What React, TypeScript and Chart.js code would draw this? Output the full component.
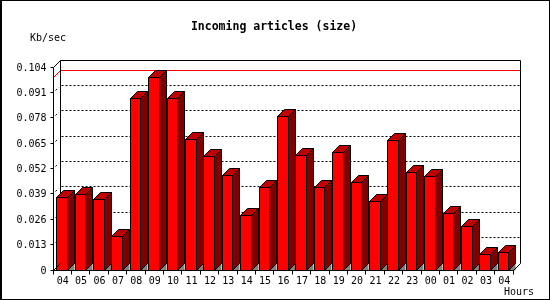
import React, { useEffect, useRef } from "react";
import { Chart, registerables } from "chart.js";

Chart.register(...registerables);

const hours = ["04","05","06","07","08","09","10","11","12","13","14","15","16","17","18","19","20","21","22","23","00","01","02","03","04"];
const sizeKbps = [0.0372,0.0389,0.0362,0.0174,0.0880,0.0987,0.0880,0.0670,0.0584,0.0487,0.0280,0.0424,0.0791,0.0589,0.0424,0.0603,0.0449,0.0352,0.0664,0.0500,0.0480,0.0290,0.0224,0.0080,0.0091];
const yTicks = [0,0.013,0.026,0.039,0.052,0.065,0.078,0.091,0.104];
const yTickLabels = ["0","0.013","0.026","0.039","0.052","0.065","0.078","0.091","0.104"];
const titleText = "Incoming articles (size)";
const yUnit = "Kb/sec";
const xUnit = "Hours";

const DEPTH = 7;
const FONT = '"DejaVu Sans Mono", "Liberation Mono", monospace';

const threeD = {
  id: "threeD",
  beforeDraw(chart: any) {
    const ctx = chart.ctx;
    ctx.save();
    ctx.fillStyle = "#ffffff";
    ctx.fillRect(0, 0, 550, 300);
    ctx.fillStyle = "#000000";
    ctx.fillRect(0, 0, 2, 300);
    ctx.fillRect(0, 0, 550, 1);
    ctx.fillRect(549, 0, 1, 300);
    ctx.fillRect(0, 299, 550, 1);
    ctx.restore();
  },
  beforeDatasetsDraw(chart: any) {
    const ctx = chart.ctx;
    const xs = chart.scales.x;
    const ys = chart.scales.y;
    const L = Math.floor(xs.left) + 0.5;
    const R = Math.floor(xs.right) + 0.5;
    const top = Math.floor(ys.getPixelForValue(yTicks[yTicks.length - 1])) + 0.5;
    const base = Math.floor(ys.getPixelForValue(0)) + 0.5;
    ctx.save();
    ctx.lineWidth = 1;
    ctx.strokeStyle = "#000";
    ctx.setLineDash([2, 2]);
    for (let i = 1; i < yTicks.length - 1; i++) {
      const y = Math.floor(ys.getPixelForValue(yTicks[i])) + 0.5;
      ctx.beginPath();
      ctx.moveTo(L + DEPTH + 1, y - DEPTH);
      ctx.lineTo(R + DEPTH, y - DEPTH);
      ctx.stroke();
      ctx.beginPath();
      ctx.moveTo(L + 2, y - 2);
      ctx.lineTo(L + 5, y - 5);
      ctx.stroke();
    }
    ctx.setLineDash([]);
    const maxV = Math.max(...sizeKbps);
    const my = Math.floor(ys.getPixelForValue(maxV)) + 0.5;
    ctx.strokeStyle = "#ff0000";
    ctx.beginPath();
    ctx.moveTo(L, my);
    ctx.lineTo(L + DEPTH, my - DEPTH);
    ctx.lineTo(R + DEPTH, my - DEPTH);
    ctx.stroke();
    ctx.strokeStyle = "#000";
    ctx.beginPath();
    ctx.moveTo(L + DEPTH, base - DEPTH);
    ctx.lineTo(L + DEPTH, top - DEPTH);
    ctx.lineTo(R + DEPTH, top - DEPTH);
    ctx.lineTo(R + DEPTH, base - DEPTH);
    ctx.stroke();
    ctx.restore();
  },
  afterDatasetsDraw(chart: any) {
    const ctx = chart.ctx;
    const xs = chart.scales.x;
    const ys = chart.scales.y;
    const L = Math.floor(xs.left) + 0.5;
    const R = Math.floor(xs.right) + 0.5;
    const top = Math.floor(ys.getPixelForValue(yTicks[yTicks.length - 1])) + 0.5;
    const base = Math.floor(ys.getPixelForValue(0)) + 0.5;
    const meta = chart.getDatasetMeta(0);
    ctx.save();
    ctx.lineWidth = 1;
    ctx.strokeStyle = "#000";
    meta.data.forEach((bar: any) => {
      const w = bar.width;
      const l = Math.floor(bar.x - w / 2) + 0.5;
      const r = Math.round(bar.x + w / 2) - 0.5;
      const t = Math.round(bar.y) + 0.5;
      const b = base;
      // front face
      ctx.fillStyle = "#ff0000";
      ctx.fillRect(l, t, r - l, b - t);
      ctx.strokeRect(l, t, r - l, b - t);
      // side face
      ctx.fillStyle = "#800000";
      ctx.beginPath();
      ctx.moveTo(r, t);
      ctx.lineTo(r + DEPTH, t - DEPTH);
      ctx.lineTo(r + DEPTH, b - DEPTH);
      ctx.lineTo(r, b);
      ctx.closePath();
      ctx.fill();
      ctx.stroke();
      // floor triangle
      ctx.fillStyle = "#808080";
      ctx.beginPath();
      ctx.moveTo(r, b);
      ctx.lineTo(r + DEPTH, b - DEPTH);
      ctx.lineTo(r + DEPTH, b);
      ctx.closePath();
      ctx.fill();
      ctx.beginPath();
      ctx.moveTo(r, b);
      ctx.lineTo(r + DEPTH, b - DEPTH);
      ctx.stroke();
      // top face
      ctx.fillStyle = "#c00000";
      ctx.beginPath();
      ctx.moveTo(l, t);
      ctx.lineTo(l + DEPTH, t - DEPTH);
      ctx.lineTo(r + DEPTH, t - DEPTH);
      ctx.lineTo(r, t);
      ctx.closePath();
      ctx.fill();
      ctx.stroke();
    });
    // front axes
    ctx.beginPath();
    ctx.moveTo(L + DEPTH, top - DEPTH);
    ctx.lineTo(L, top);
    ctx.lineTo(L, base);
    ctx.lineTo(R, base);
    ctx.lineTo(R + DEPTH, base - DEPTH);
    ctx.moveTo(L, base);
    ctx.lineTo(L + DEPTH, base - DEPTH);
    ctx.stroke();
    ctx.fillStyle = "#000";
    ctx.font = "10px " + FONT;
    ctx.textAlign = "right";
    ctx.textBaseline = "middle";
    yTicks.forEach((v, i) => {
      const y = Math.floor(ys.getPixelForValue(v)) + 0.5;
      ctx.beginPath();
      ctx.moveTo(L - 3, y);
      ctx.lineTo(L, y);
      ctx.stroke();
      ctx.fillText(yTickLabels[i], L - 7, y + 1);
    });
    ctx.textAlign = "center";
    const n = hours.length;
    for (let i = 0; i <= n; i++) {
      const x = Math.floor(xs.left + (xs.right - xs.left) * i / n) + 0.5;
      ctx.beginPath();
      ctx.moveTo(x, base);
      ctx.lineTo(x, base + 4);
      ctx.stroke();
    }
    hours.forEach((h, i) => {
      const x = xs.getPixelForValue(i);
      ctx.fillText(h, x + 0.5, base + 11);
    });
    ctx.font = "bold 11.5px " + FONT;
    ctx.textAlign = "center";
    ctx.fillText(titleText, 274, 27);
    ctx.font = "10px " + FONT;
    ctx.textAlign = "left";
    ctx.fillText(yUnit, 30, 38);
    ctx.fillText(xUnit, 504, 292);
    ctx.restore();
  },
};

export default function App() {
  const ref = useRef<HTMLCanvasElement | null>(null);
  useEffect(() => {
    document.body.style.margin = "0";
    const canvas = ref.current!;
    const chart = new Chart(canvas, {
      type: "bar",
      data: {
        labels: hours,
        datasets: [
          {
            data: sizeKbps,
            backgroundColor: "rgba(0,0,0,0)",
            borderColor: "rgba(0,0,0,0)",
            borderWidth: 0,
            barPercentage: 1,
            categoryPercentage: 0.6,
          },
        ],
      },
      options: {
        responsive: false,
        animation: false,
        devicePixelRatio: 1,
        layout: { padding: { left: 53, right: 37, top: 67, bottom: 30 } },
        plugins: { legend: { display: false }, tooltip: { enabled: false }, title: { display: false } },
        scales: {
          x: { type: "category", offset: true, display: false },
          y: { type: "linear", min: 0, max: 0.104, display: false },
        },
      },
      plugins: [threeD],
    });
    return () => chart.destroy();
  }, []);
  return <canvas ref={ref} width={550} height={300} style={{ display: "block", width: 550, height: 300 }} />;
}
